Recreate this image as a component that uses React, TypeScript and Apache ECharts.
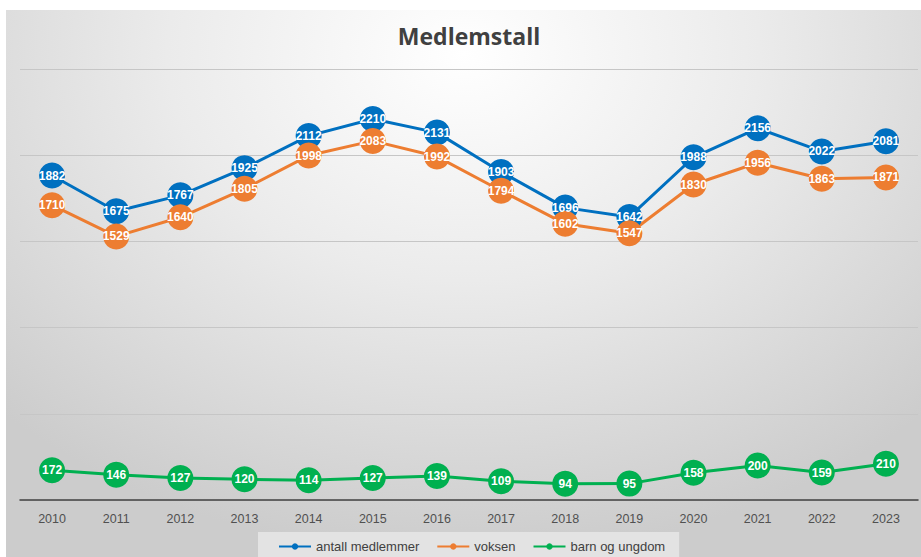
import React, { useEffect, useRef } from "react";
import * as echarts from "echarts";

const years = ["2010","2011","2012","2013","2014","2015","2016","2017","2018","2019","2020","2021","2022","2023"];
const antall = [1882,1675,1767,1925,2112,2210,2131,1903,1696,1642,1988,2156,2022,2081];
const voksen = [1710,1529,1640,1805,1998,2083,1992,1794,1602,1547,1830,1956,1863,1871];
const barn = [172,146,127,120,114,127,139,109,94,95,158,200,159,210];
const seriesNames = ["antall medlemmer","voksen","barn og ungdom"];
const colors = ["#0070C0","#ED7D31","#00B050"];
const titleText = "Medlemstall";

export default function App() {
  const ref = useRef<HTMLDivElement>(null);
  useEffect(() => {
    if (!ref.current) return;
    const chart = echarts.init(ref.current, null, { renderer: "svg" });
    const font = "Liberation Sans";
    const mk = (name: string, data: number[], color: string) => ({
      name,
      type: "line",
      data,
      symbol: "circle",
      symbolSize: 26,
      lineStyle: { color, width: 3 },
      itemStyle: { color },
      label: {
        show: true,
        position: "inside",
        color: "#ffffff",
        fontSize: 12,
        fontWeight: "bold",
        fontFamily: font,
      },
      z: 3,
    });
    chart.setOption({
      animation: false,
      backgroundColor: "transparent",
      textStyle: { fontFamily: font },
      graphic: [
        {
          type: "text",
          x: 463,
          y: 26,
          style: {
            text: titleText,
            align: "center",
            verticalAlign: "middle",
            fontSize: 23,
            fontWeight: "bold",
            fill: "#404040",
            fontFamily: "Open Sans",
          },
        },
      ],
      legend: {
        data: seriesNames,
        left: 252,
        top: 522,
        backgroundColor: "#e3e3e3",
        padding: [8, 14, 12, 20],
        itemWidth: 32,
        itemHeight: 8,
        itemGap: 17,
        textStyle: { color: "#404040", fontSize: 13, fontFamily: font },
      },
      grid: { left: 14, right: 3, top: 59, bottom: 57 },
      xAxis: {
        type: "category",
        data: years,
        boundaryGap: true,
        axisLine: { lineStyle: { color: "#404040", width: 1.5 } },
        axisTick: { show: false },
        axisLabel: { color: "#505050", fontSize: 12.5, margin: 12, fontFamily: font },
      },
      yAxis: {
        type: "value",
        min: 0,
        max: 2500,
        interval: 500,
        axisLabel: { show: false },
        axisLine: { show: false },
        axisTick: { show: false },
        splitLine: { lineStyle: { color: "#c6c6c6", width: 1 } },
      },
      series: [
        mk(seriesNames[0], antall, colors[0]),
        mk(seriesNames[1], voksen, colors[1]),
        mk(seriesNames[2], barn, colors[2]),
      ],
    });
    return () => chart.dispose();
  }, []);
  return (
    <div style={{ position: "absolute", left: 0, top: 0, width: 921, height: 557, background: "#ffffff", overflow: "hidden" }}>
      <div
        ref={ref}
        style={{
          position: "absolute",
          left: 6,
          top: 10,
          width: 915,
          height: 547,
          background: "radial-gradient(ellipse 72% 92% at 50% 8%, #ffffff 0%, #ebebeb 45%, #cccccc 100%)",
        }}
      />
    </div>
  );
}
